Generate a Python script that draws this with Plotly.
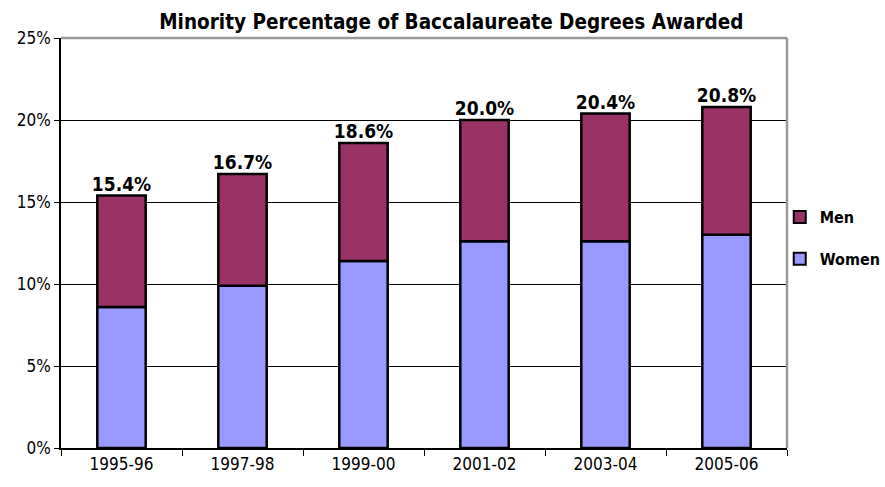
import plotly.graph_objects as go

categories = ["1995-96", "1997-98", "1999-00", "2001-02", "2003-04", "2005-06"]
women = [8.6, 9.9, 11.4, 12.6, 12.6, 13.0]
totals = [15.4, 16.7, 18.6, 20.0, 20.4, 20.8]
men = [round(t - w, 1) for t, w in zip(totals, women)]
total_labels = [f"<b>{t:.1f}%</b>" for t in totals]

FONT = "DejaVu Sans Condensed, Liberation Sans Narrow, sans-serif"

fig = go.Figure()
fig.add_trace(go.Bar(x=categories, y=women, name="<b>Women</b>", legendgroup="w", legendrank=2,
                     marker=dict(color="#9999FF", line=dict(color="black", width=2.5))))
fig.add_trace(go.Bar(x=categories, y=men, name="<b>Men</b>", base=women, legendgroup="m", legendrank=1,
                     marker=dict(color="#993366", line=dict(color="black", width=2.5))))
fig.add_trace(go.Scatter(x=categories, y=totals, mode="text", text=total_labels,
                         textposition="top center", showlegend=False,
                         textfont=dict(family=FONT, size=19, color="black"),
                         cliponaxis=False, hoverinfo="skip"))

fig.update_layout(
    width=885, height=487,
    margin=dict(l=61, r=98, t=38, b=39, autoexpand=False),
    barmode="overlay", bargap=0.6,
    paper_bgcolor="white", plot_bgcolor="white",
    font=dict(family=FONT, size=16, color="black"),
    title=dict(text="<b>Minority Percentage of Baccalaureate Degrees Awarded</b>",
               x=0.51, xanchor="center", y=0.955, yanchor="middle",
               font=dict(family=FONT, size=20.5, color="black")),
    legend=dict(x=0.99, y=0.512, xanchor="left", yanchor="middle",
                traceorder="grouped", itemsizing="constant",
                font=dict(family=FONT, size=16, color="black"),
                tracegroupgap=18, itemwidth=30, bgcolor="rgba(0,0,0,0)"),
    showlegend=True,
)
fig.update_yaxes(range=[0, 25], dtick=5, ticksuffix="%", showgrid=True,
                 gridcolor="black", gridwidth=1, showline=True, linecolor="black",
                 linewidth=1.5, ticks="outside", ticklen=5, tickcolor="black",
                 zeroline=False, tickfont=dict(size=17), automargin=False)
fig.update_xaxes(type="category", showline=True, linecolor="black", linewidth=1.5,
                 ticks="outside", ticklen=6, tickcolor="black", tickson="boundaries",
                 tickfont=dict(size=17), automargin=False)
fig.add_shape(type="line", xref="paper", yref="paper", x0=0, x1=1, y0=1, y1=1,
              line=dict(color="#999999", width=2.5))
fig.add_shape(type="line", xref="paper", yref="paper", x0=1, x1=1, y0=0, y1=1,
              line=dict(color="#999999", width=2.5))

fig.write_html("out.html", config={"displayModeBar": False},
               post_script="document.body.style.margin='0';document.body.style.overflow='hidden';")
